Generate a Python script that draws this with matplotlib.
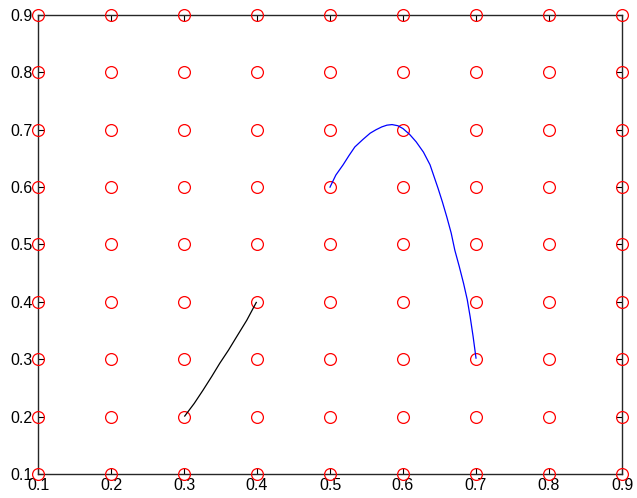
import numpy as np
import matplotlib
matplotlib.use("Agg")
import matplotlib.pyplot as plt

plt.rcParams['font.family'] = ['Liberation Sans', 'DejaVu Sans']

# grid of node positions
grid_vals = [0.1, 0.2, 0.3, 0.4, 0.5, 0.6, 0.7, 0.8, 0.9]

# black path
black_x = [0.301, 0.314, 0.326, 0.338, 0.349, 0.361, 0.372, 0.386, 0.399]
black_y = [0.201, 0.223, 0.246, 0.270, 0.293, 0.316, 0.339, 0.368, 0.399]

# blue path
blue_x = [0.500, 0.508, 0.518, 0.526, 0.534, 0.545, 0.555, 0.563, 0.571,
          0.578, 0.585, 0.593, 0.600, 0.609, 0.618, 0.628, 0.637, 0.648,
          0.654, 0.660, 0.666, 0.671, 0.677, 0.683, 0.688, 0.692, 0.696,
          0.700]
blue_y = [0.600, 0.621, 0.639, 0.655, 0.670, 0.683, 0.694, 0.700, 0.705,
          0.708, 0.709, 0.707, 0.702, 0.692, 0.679, 0.661, 0.639, 0.598,
          0.574, 0.548, 0.520, 0.490, 0.462, 0.432, 0.404, 0.374, 0.340,
          0.302]

fig = plt.figure(figsize=(6.37, 4.98), dpi=100)
ax = fig.add_axes([38 / 637, 24 / 498, 584 / 637, 459 / 498])

gx, gy = np.meshgrid(grid_vals, grid_vals)
ax.plot(gx.ravel(), gy.ravel(), 'o', mfc='none', mec='red', ms=8.5, mew=0.9,
        clip_on=False, zorder=3)
ax.plot(black_x, black_y, color='black', lw=0.9, zorder=4)
ax.plot(blue_x, blue_y, color='blue', lw=0.9, zorder=4)

ax.set_xlim(0.1, 0.9)
ax.set_ylim(0.1, 0.9)
ax.set_xticks(grid_vals)
ax.set_yticks(grid_vals)
ax.set_xticklabels([f"{v:.1f}" for v in grid_vals])
ax.set_yticklabels([f"{v:.1f}" for v in grid_vals])
ax.tick_params(direction='in', length=4, width=0.8, top=True, right=True,
               labelsize=11.5, pad=3)
ax.tick_params(axis='y', pad=4)
for s in ax.spines.values():
    s.set_linewidth(1.0)
    s.set_color('#262626')

fig.savefig("out.png", dpi=100)
